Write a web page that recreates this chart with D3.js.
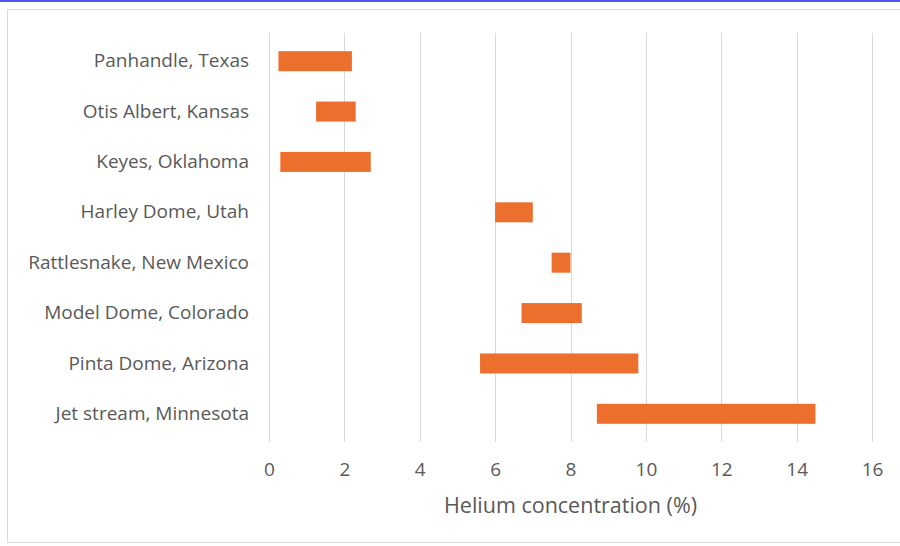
<!DOCTYPE html>
<html>
<head>
<meta charset="utf-8">
<script src="https://cdn.jsdelivr.net/npm/d3@7"></script>
<style>
  html, body { margin: 0; padding: 0; background: #fff; }
  svg { display: block; }
</style>
</head>
<body>
<svg id="chart" width="900" height="546"></svg>
<script>
// Helium fields and their concentration ranges (%)
const fields = [
  "Panhandle, Texas",
  "Otis Albert, Kansas",
  "Keyes, Oklahoma",
  "Harley Dome, Utah",
  "Rattlesnake, New Mexico",
  "Model Dome, Colorado",
  "Pinta Dome, Arizona",
  "Jet stream, Minnesota"
];
const lowValues  = [0.25, 1.25, 0.3, 6.0, 7.5, 6.7, 5.6, 8.7];
const highValues = [2.2, 2.3, 2.7, 7.0, 8.0, 8.3, 9.8, 14.5];
const xTicks = [0, 2, 4, 6, 8, 10, 12, 14, 16];
const xTitle = "Helium concentration (%)";

const rows = fields.map((f, i) => ({ field: f, lo: lowValues[i], hi: highValues[i] }));

const svg = d3.select("#chart");
const W = 900, H = 546;
const plot = { left: 269, right: 872, top: 36, bottom: 439 };
const textColor = "#595959";
const fontFamily = "'Open Sans', 'Noto Sans', sans-serif";

// page accent line and chart frame
svg.append("rect").attr("x", 0).attr("y", 0).attr("width", W).attr("height", 2).attr("fill", "#5054f2");
svg.append("rect").attr("x", 7.5).attr("y", 9.5).attr("width", W).attr("height", 533)
  .attr("fill", "#fff").attr("stroke", "#d9d9d9").attr("stroke-width", 1);

const x = d3.scaleLinear().domain([0, 16]).range([plot.left, plot.right]);
const y = d3.scaleBand().domain(fields).range([plot.top, plot.bottom]).paddingInner(0.6).paddingOuter(0.3);

// vertical gridlines
svg.append("g")
  .selectAll("line")
  .data(xTicks)
  .join("line")
  .attr("x1", d => Math.round(x(d)) + 0.5)
  .attr("x2", d => Math.round(x(d)) + 0.5)
  .attr("y1", 33)
  .attr("y2", 442)
  .attr("stroke", "#d9d9d9")
  .attr("stroke-width", 1);

// x axis tick labels
const xAxis = d3.axisBottom(x).tickValues(xTicks).tickSize(0).tickPadding(0).tickFormat(d3.format("d"));
const gx = svg.append("g").attr("transform", `translate(0, 469)`).call(xAxis);
gx.select(".domain").remove();
gx.selectAll("text")
  .attr("fill", textColor)
  .attr("font-family", fontFamily)
  .attr("font-size", 19)
  .attr("dy", "0.35em");

// y axis category labels
const yAxis = d3.axisLeft(y).tickSize(0).tickPadding(0);
const gy = svg.append("g").attr("transform", `translate(249, 0)`).call(yAxis);
gy.select(".domain").remove();
gy.selectAll("text")
  .attr("fill", textColor)
  .attr("font-family", fontFamily)
  .attr("font-size", 19);

// floating range bars
svg.append("g")
  .selectAll("rect")
  .data(rows)
  .join("rect")
  .attr("x", d => x(d.lo))
  .attr("width", d => x(d.hi) - x(d.lo))
  .attr("y", d => y(d.field) + y.bandwidth() / 2 - 10)
  .attr("height", 20)
  .attr("fill", "#ec6f2d");

// axis title
svg.append("text")
  .attr("x", (plot.left + plot.right) / 2)
  .attr("y", 505)
  .attr("dy", "0.35em")
  .attr("text-anchor", "middle")
  .attr("fill", textColor)
  .attr("font-family", fontFamily)
  .attr("font-size", 21.5)
  .text(xTitle);
</script>
</body>
</html>
